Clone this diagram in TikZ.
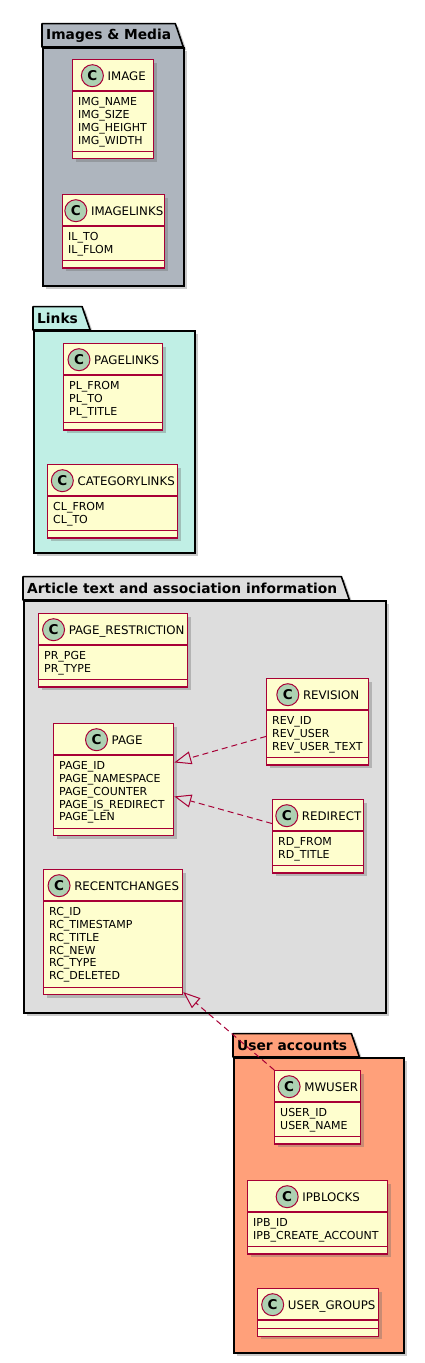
\documentclass[tikz,border=0pt]{standalone}
\usepackage{fontspec}
\setmainfont{DejaVu Sans}
\usepackage{tikz}
\usetikzlibrary{positioning,arrows.meta,shadows,backgrounds}
\definecolor{umlred}{RGB}{168,0,54}
\definecolor{umlyellow}{RGB}{254,254,206}
\definecolor{umlgreen}{RGB}{173,209,178}
\definecolor{pkgmedia}{RGB}{174,181,190}
\definecolor{pkglinks}{RGB}{192,239,229}
\definecolor{pkgarticle}{RGB}{221,221,221}
\definecolor{pkgusers}{RGB}{255,160,122}
\tikzset{
  boxshadow/.style={drop shadow={shadow xshift=3pt, shadow yshift=-3pt, opacity=0.35, fill=black!60}},
  pkgtitle/.style={anchor=south west, minimum height=23pt, inner xsep=4pt, inner ysep=0pt, font=\fontsize{13.8}{16}\selectfont\bfseries},
  pkgtab/.style={draw=black, line width=1.6pt, line join=round, boxshadow},
  pkgbody/.style={draw=black, line width=1.6pt, anchor=north west, inner sep=0pt, boxshadow},
  classbox/.style={draw=umlred, fill=umlyellow, line width=1.3pt, anchor=north west, inner sep=0pt, boxshadow},
  classname/.style={anchor=base, inner sep=0pt, font=\fontsize{11.8}{14}\selectfont},
  classmark/.style={circle, draw=umlred, fill=umlgreen, line width=1pt, minimum size=22pt, inner sep=0pt, font=\fontsize{13.5}{14}\selectfont\bfseries},
  fields/.style={anchor=north west, inner sep=0pt, align=left, font=\fontsize{11}{12.9}\selectfont},
  classsep/.style={draw=umlred, line width=1.3pt},
  realize/.style={draw=umlred, line width=1pt, dash pattern=on 6pt off 4pt, -{Triangle[open, length=17pt, width=13pt]}},
}
% #1 name, #2 north west corner, #3 width, #4 number of fields, #5 title, #6 fields
\newcommand\umlclass[6]{%
  \node[classbox, minimum width=#3pt, minimum height={47.5pt+12.9pt*#4}] (#1) at (#2) {};
  \draw[classsep] ([yshift=-32pt]#1.north west) -- ([yshift=-32pt]#1.north east);
  \draw[classsep] ([yshift=8pt]#1.south west) -- ([yshift=8pt]#1.south east);
  \node[classname] (#1-name) at ([xshift=13.5pt, yshift=-21pt]#1.north) {#5};
  \node[classmark] (#1-mark) at ([xshift=-15pt, yshift=4.3pt]#1-name.base west) {C};
  \node[fields] (#1-fields) at ([xshift=6pt, yshift=-38pt]#1.north west) {#6};
}
% #1 name, #2 fill
\newcommand\pkgtab[2]{%
  \begin{scope}[on background layer]
    \draw[pkgtab, fill=#2] (#1-title.south west) |- (#1-title.north east) -- ([xshift=8pt]#1-title.south east) -- cycle;
  \end{scope}
}

\begin{document}
\begin{tikzpicture}[x=1pt, y=-1pt]
  \useasboundingbox (0,0) rectangle (424,1363);

  \node[pkgtitle] (media-title) at (42,47) {Images \& Media};
  \pkgtab{media}{pkgmedia}
  \node[pkgbody, fill=pkgmedia, minimum width=141pt, minimum height=238pt] (media) at (42,47) {};
  \umlclass{image}{72,59}{81}{4}{IMAGE}{IMG\_NAME\\IMG\_SIZE\\IMG\_HEIGHT\\IMG\_WIDTH}
  \umlclass{imagelinks}{62,194}{102}{2}{IMAGELINKS}{IL\_TO\\IL\_FLOM}

  \node[pkgtitle] (links-title) at (33,330) {Links};
  \pkgtab{links}{pkglinks}
  \node[pkgbody, fill=pkglinks, minimum width=161pt, minimum height=222pt] (links) at (33,330) {};
  \umlclass{pagelinks}{63,343}{99}{3}{PAGELINKS}{PL\_FROM\\PL\_TO\\PL\_TITLE}
  \umlclass{categorylinks}{47,464}{130}{2}{CATEGORYLINKS}{CL\_FROM\\CL\_TO}

  \node[pkgtitle] (article-title) at (23,600) {Article text and association information};
  \pkgtab{article}{pkgarticle}
  \node[pkgbody, fill=pkgarticle, minimum width=362pt, minimum height=412pt] (article) at (23,600) {};
  \umlclass{pagerestriction}{38,613}{149}{2}{PAGE\_RESTRICTION}{PR\_PGE\\PR\_TYPE}
  \umlclass{revision}{266,678}{102}{3}{REVISION}{REV\_ID\\REV\_USER\\REV\_USER\_TEXT}
  \umlclass{page}{53,723}{120}{5}{PAGE}{PAGE\_ID\\PAGE\_NAMESPACE\\PAGE\_COUNTER\\PAGE\_IS\_REDIRECT\\PAGE\_LEN}
  \umlclass{redirect}{272,799}{91}{2}{REDIRECT}{RD\_FROM\\RD\_TITLE}
  \umlclass{recentchanges}{43,869}{139}{6}{RECENTCHANGES}{RC\_ID\\RC\_TIMESTAMP\\RC\_TITLE\\RC\_NEW\\RC\_TYPE\\RC\_DELETED}

  \node[pkgtitle] (users-title) at (233,1057) {User accounts};
  \pkgtab{users}{pkgusers}
  \node[pkgbody, fill=pkgusers, minimum width=170pt, minimum height=295pt] (users) at (233,1057) {};
  \umlclass{mwuser}{274,1070}{86}{2}{MWUSER}{USER\_ID\\USER\_NAME}
  \umlclass{ipblocks}{247,1180}{140}{2}{IPBLOCKS}{IPB\_ID\\IPB\_CREATE\_ACCOUNT}
  \umlclass{usergroups}{257,1288}{121}{0}{USER\_GROUPS}{}

  \draw[realize] (revision) -- (page);
  \draw[realize] (redirect) -- (page);
  \draw[realize] (mwuser) -- (recentchanges);
\end{tikzpicture}
\end{document}
